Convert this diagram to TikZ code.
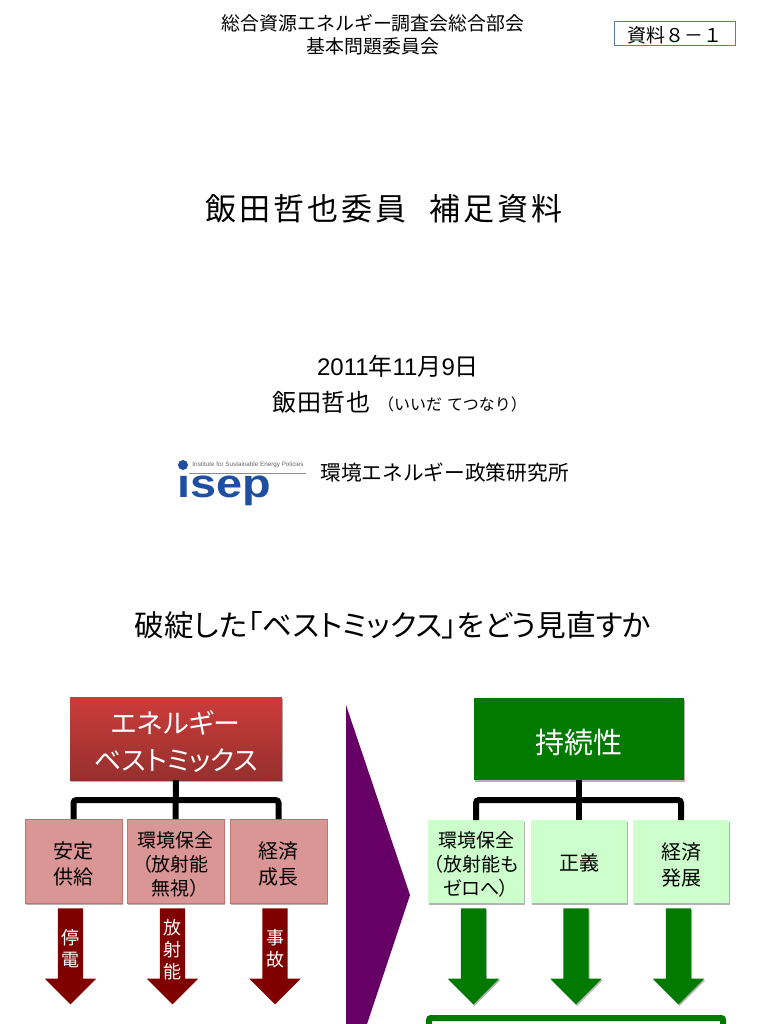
\documentclass[tikz,border=0pt]{standalone}
\usepackage{fontspec}
\usepackage{xcolor}
\setmainfont{Noto Sans CJK JP}
\newfontfamily\jpp[RawFeature=+palt]{Noto Sans CJK JP}
\newfontfamily\latin{Liberation Sans}
\usetikzlibrary{arrows.meta, positioning, calc, shapes.arrows}
\definecolor{bmtop}{HTML}{CC3C3A}
\definecolor{bmbot}{HTML}{96302E}
\definecolor{bmsub}{HTML}{D99694}
\definecolor{bmline}{HTML}{C4726F}
\definecolor{darkred}{HTML}{800000}
\definecolor{susgreen}{HTML}{007A00}
\definecolor{sussub}{HTML}{CCFFCC}
\definecolor{viol}{HTML}{660066}
\definecolor{isepblue}{HTML}{1F4FA0}
\definecolor{tagline}{HTML}{5B7FA8}
\newcommand{\lowerby}[1]{\rule{0pt}{#1}}

\begin{document}
\begin{tikzpicture}[
  x=1pt, y=-1pt,
  every node/.style={inner sep=0pt, outer sep=0pt, text=black},
  shadowed/.style={preaction={fill=black!30, transform canvas={xshift=1pt, yshift=-1.5pt}}},
  topred/.style={rectangle, shadowed, top color=bmtop, bottom color=bmbot, minimum width=212pt, minimum height=83pt, align=center, text=white, font=\jpp\fontsize{27}{37}\selectfont},
  topgreen/.style={rectangle, shadowed, fill=susgreen, minimum width=210pt, minimum height=82pt, align=center, text=white, font=\fontsize{29}{36}\selectfont},
  redsub/.style={rectangle, shadowed, draw=bmline, fill=bmsub, minimum width=97pt, minimum height=84pt, align=center},
  greensub/.style={rectangle, shadowed, fill=sussub, minimum width=96pt, minimum height=83pt, align=center},
  twoline/.style={font=\fontsize{20}{26}\selectfont},
  threeline/.style={font=\jpp\fontsize{19}{24}\selectfont},
  redarrow/.style={single arrow, fill=darkred, rotate=-90, inner ysep=12.5pt, minimum height=96pt, single arrow head extend=13pt},
  greenarrow/.style={single arrow, shadowed, fill=susgreen, rotate=-90, inner ysep=12.5pt, minimum height=96pt, single arrow head extend=13pt},
  treeline/.style={line width=6pt, rounded corners=3pt, black},
  arrowtext/.style={align=center, text=white, font=\fontsize{18}{22}\selectfont}
]
\useasboundingbox (0,0) rectangle (768,1024);
\clip (0,0) rectangle (768,1024);
\fill[white] (0,0) rectangle (768,1024);
% header
\node[align=center, font=\fontsize{18.9}{23}\selectfont] (council) at (373,35) {総合資源エネルギー調査会総合部会\\基本問題委員会};
\node[rectangle, draw=tagline, line width=1pt, minimum width=121pt, minimum height=24pt, font=\fontsize{19}{20}\selectfont] (tag) at (674.5,34) {\lowerby{19pt}資料８－１};
\node[font=\fontsize{31}{36}\selectfont\addfontfeature{LetterSpace=10}] (title) at (384,209) {飯田哲也委員\hspace{23pt}補足資料};
\node[font=\latin\fontsize{24}{26}\selectfont] (date) at (398,366) {2011\textnormal{\fontsize{24}{26}\selectfont 年}11\textnormal{\fontsize{24}{26}\selectfont 月}9\textnormal{\fontsize{24}{26}\selectfont 日}};
\node[font=\fontsize{24}{28}\selectfont\addfontfeature{LetterSpace=4}] (name) at (321.5,402) {飯田哲也};
\node[font=\fontsize{16}{20}\selectfont] (reading) at (452.5,404) {（いいだ\hspace{5pt}てつなり）};
% logo
\node[font=\latin\bfseries\fontsize{40}{44}\selectfont, text=isepblue, xscale=1.17, anchor=base, text height=21pt] (isep) at (224,497) {isep};
\fill[white] (176,466) rectangle (192,475);
\fill[isepblue] (183,465) circle (5);
\node[font=\latin\fontsize{6.3}{8}\selectfont, text=black!60] (institute) at (248,465) {Institute for Sustainable Energy Policies};
\draw[black!45, line width=0.6pt] (189,473.5) -- (306,473.5);
\node[font=\fontsize{20.7}{24}\selectfont] (isepname) at (444.5,473) {環境エネルギー政策研究所};
\node[font=\jpp\fontsize{29.6}{34}\selectfont] (question) at (393,625) {破綻した「ベストミックス」をどう見直すか};
% big arrow between the two trees
\fill[viol] (346,705) -- (410,895) -- (346,1087) -- cycle;
% left tree
\node[topred] (bestmix) at (176,738.5) {\lowerby{30pt}エネルギー\\ベストミックス};
\node[redsub, twoline] (stable) at (73.5,861) {\lowerby{23pt}安定\\供給};
\node[redsub, threeline] (envold) at (175.5,861) {\lowerby{22pt}環境保全\\（放射能\\無視）};
\node[redsub, twoline] (growth) at (278.5,861) {\lowerby{23pt}経済\\成長};
\coordinate (bmjoin) at (176,800);
\draw[treeline] (stable.north) |- (bmjoin) -| (growth.north);
\draw[treeline] (bestmix.south) -- (envold.north);
\node[redarrow] (a1) at (70.5,950) {};
\node[redarrow] (a2) at (172.5,950) {};
\node[redarrow] (a3) at (275,950) {};
\node[arrowtext] (a1text) at (70.5,949) {停\\電};
\node[arrowtext] (a2text) at (172.5,950) {放\\射\\能};
\node[arrowtext] (a3text) at (275,949) {事\\故};
% right tree
\node[topgreen] (sustain) at (579,739) {\lowerby{32pt}持続性};
\node[greensub, threeline] (envnew) at (476,861.5) {\lowerby{22pt}環境保全\\（放射能も\\ゼロへ）};
\node[greensub, twoline] (justice) at (579,861.5) {\lowerby{20pt}正義};
\node[greensub, twoline] (develop) at (681,861.5) {\lowerby{23pt}経済\\発展};
\coordinate (susjoin) at (579,800);
\draw[treeline] (envnew.north) |- (susjoin) -| (develop.north);
\draw[treeline] (sustain.south) -- (justice.north);
\node[greenarrow] (g1) at (473.5,950) {};
\node[greenarrow] (g2) at (576,950) {};
\node[greenarrow] (g3) at (678.5,950) {};
\node[rectangle, rounded corners=2pt, draw=susgreen, fill=white, line width=6pt, minimum width=294pt, minimum height=84pt] (result) at (576,1060) {};
\end{tikzpicture}
\end{document}
